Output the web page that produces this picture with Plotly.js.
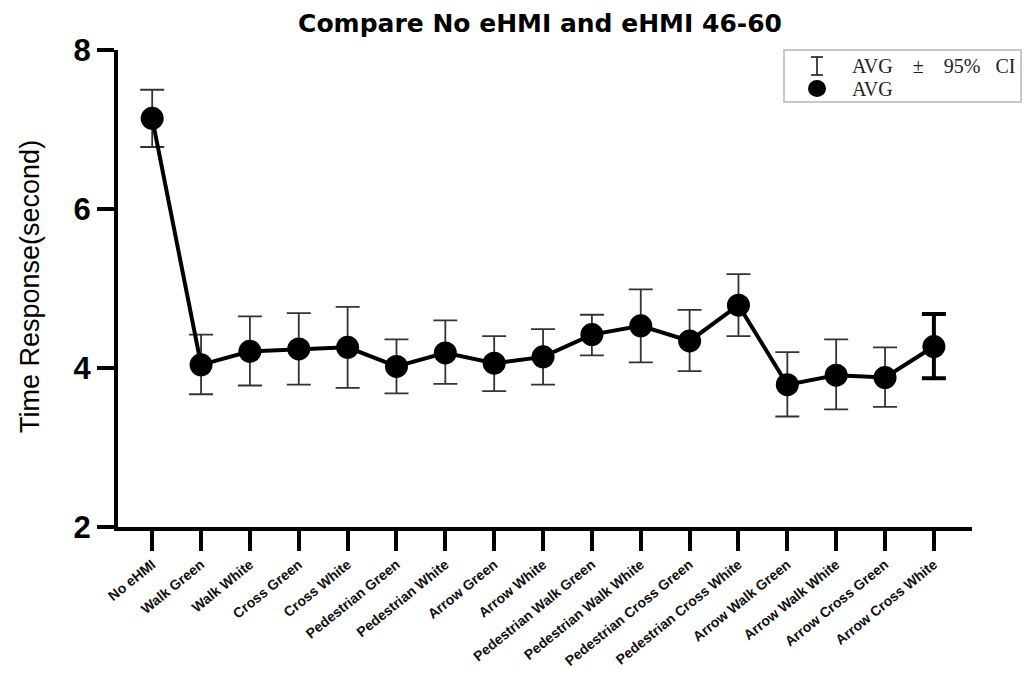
<!DOCTYPE html>
<html>
<head>
<meta charset="utf-8">
<script src="https://cdn.plot.ly/plotly-3.0.1.min.js"></script>
<style>html,body{margin:0;padding:0;background:#fff;}#chart{width:1024px;height:675px;}</style>
</head>
<body>
<div id="chart"></div>
<script>
const categories = ["No eHMI","Walk Green","Walk White","Cross Green","Cross White","Pedestrian Green","Pedestrian White","Arrow Green","Arrow White","Pedestrian Walk Green","Pedestrian Walk White","Pedestrian Cross Green","Pedestrian Cross White","Arrow Walk Green","Arrow Walk White","Arrow Cross Green","Arrow Cross White"];
const avg     = [7.14,4.04,4.21,4.24,4.26,4.02,4.19,4.06,4.14,4.42,4.53,4.34,4.79,3.79,3.91,3.88,4.27];
const ciUpper = [7.50,4.42,4.65,4.69,4.77,4.36,4.60,4.40,4.49,4.67,4.99,4.73,5.18,4.20,4.36,4.26,4.68];
const ciLower = [6.78,3.67,3.78,3.79,3.75,3.68,3.80,3.71,3.79,4.16,4.07,3.96,4.40,3.39,3.48,3.51,3.87];
const yTicks = [2,4,6,8];

const plus = avg.map((v,i)=>ciUpper[i]-v);
const minus = avg.map((v,i)=>v-ciLower[i]);
const n = categories.length;

const traces = [
  { // thin error bars (all but last)
    x: categories.slice(0,n-1), y: avg.slice(0,n-1), type:'scatter', mode:'markers',
    marker:{size:1, color:'rgba(0,0,0,0)'},
    error_y:{type:'data', symmetric:false, array:plus.slice(0,n-1), arrayminus:minus.slice(0,n-1), color:'#333', thickness:1.8, width:12},
    showlegend:false, hoverinfo:'skip'
  },
  { // last, thicker error bar
    x: categories.slice(n-1), y: avg.slice(n-1), type:'scatter', mode:'markers',
    marker:{size:1, color:'rgba(0,0,0,0)'},
    error_y:{type:'data', symmetric:false, array:plus.slice(n-1), arrayminus:minus.slice(n-1), color:'#000', thickness:4, width:12},
    showlegend:false, hoverinfo:'skip'
  },
  {
    x: categories, y: avg, type:'scatter', mode:'lines+markers',
    line:{color:'#000', width:4},
    marker:{color:'#000', size:23},
    showlegend:false
  }
];

const L=118, R=972, T=50, B=527;
const W=R-L, H=B-T;
const px = x => (x-L)/W;
const py = y => (B-y)/H;
const sp = '\u00a0';

const layout = {
  width:1024, height:675,
  margin:{l:L, r:1024-R, t:T, b:675-B, pad:0},
  paper_bgcolor:'#fff', plot_bgcolor:'#fff',
  font:{family:'Arial, Liberation Sans, sans-serif', color:'#000'},
  title:{text:'Compare No eHMI and eHMI 46-60', font:{size:25, weight:'bold', family:'DejaVu Sans, sans-serif', color:'#000'},
         x:(540-L)/W, xref:'paper', xanchor:'center', y:1-23/675, yref:'container', yanchor:'middle'},
  xaxis:{
    type:'category', range:[-0.7, 16.78], showgrid:false, zeroline:false,
    showline:true, linecolor:'#000', linewidth:4,
    ticks:'outside', ticklen:20, tickwidth:4, tickcolor:'#000',
    tickangle:-39, tickfont:{size:14, weight:'bold', family:'Arial, Liberation Sans, sans-serif', color:'#111'},
    fixedrange:true
  },
  yaxis:{
    range:[2,8], tickvals:yTicks, ticktext:yTicks.map(String), showgrid:false, zeroline:false,
    showline:true, linecolor:'#000', linewidth:4,
    ticks:'outside', ticklen:17, tickwidth:4, tickcolor:'#000',
    tickfont:{size:31, weight:'bold', family:'Arial, Liberation Sans, sans-serif'},
    fixedrange:true
  },
  shapes:[
    {type:'rect', xref:'paper', yref:'paper', x0:px(784), x1:px(1021), y0:py(102), y1:py(50), line:{color:'#c8c8c8', width:2}, fillcolor:'rgba(0,0,0,0)'},
    {type:'line', xref:'paper', yref:'paper', x0:px(817), x1:px(817), y0:py(75), y1:py(57), line:{color:'#333', width:1.8}},
    {type:'line', xref:'paper', yref:'paper', x0:px(811), x1:px(823), y0:py(57), y1:py(57), line:{color:'#333', width:1.8}},
    {type:'line', xref:'paper', yref:'paper', x0:px(811), x1:px(823), y0:py(75), y1:py(75), line:{color:'#333', width:1.8}},
    {type:'circle', xref:'paper', yref:'paper', x0:px(808), x1:px(826), y0:py(97), y1:py(80), line:{color:'#000', width:0}, fillcolor:'#000'}
  ],
  annotations:[
    {text:'AVG'+sp.repeat(4)+'\u00b1'+sp.repeat(4)+'95%'+sp.repeat(3)+'CI', xref:'paper', yref:'paper', x:px(850), y:py(66), xanchor:'left', yanchor:'middle', showarrow:false,
     font:{family:'Liberation Serif, Times New Roman, serif', size:20, color:'#222'}},
    {text:'AVG', xref:'paper', yref:'paper', x:px(850), y:py(89), xanchor:'left', yanchor:'middle', showarrow:false,
     font:{family:'Liberation Serif, Times New Roman, serif', size:20, color:'#222'}},
    {text:'Time Response(second)', xref:'paper', yref:'paper', x:px(30), y:py(287), xanchor:'center', yanchor:'middle', textangle:-90, showarrow:false,
     font:{family:'Arial, Liberation Sans, sans-serif', size:27, color:'#000'}}
  ]
};

Plotly.newPlot('chart', traces, layout, {displayModeBar:false, staticPlot:true});
</script>
</body>
</html>
